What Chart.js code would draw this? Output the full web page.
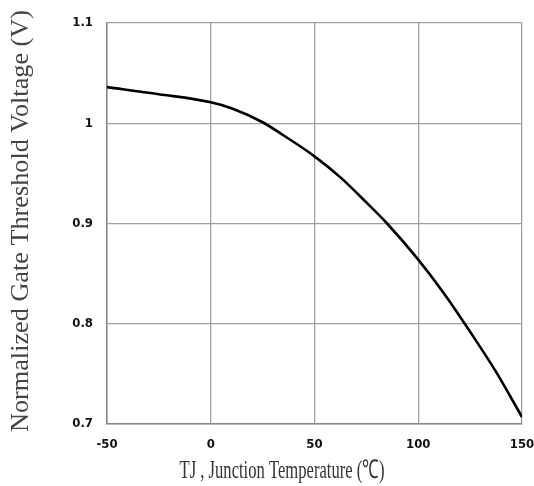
<!DOCTYPE html>
<html><head><meta charset="utf-8">
<script src="https://cdn.jsdelivr.net/npm/chart.js@4/dist/chart.umd.min.js"></script>
<style>html,body{margin:0;padding:0;background:#fff}</style>
</head><body>
<canvas id="c" width="534" height="486"></canvas>
<script>
const temps = [-50, -25, 0, 10, 25, 35, 50, 62.5, 75, 85, 100, 112.5, 125, 137.5, 150];
const vth   = [1.036, 1.029, 1.021, 1.015, 1.001, 0.988, 0.967, 0.946, 0.921, 0.900, 0.864, 0.830, 0.792, 0.752, 0.707];
const xTicks = [-50, 0, 50, 100, 150];
const yTicks = [0.7, 0.8, 0.9, 1.0, 1.1];
const xTitle = 'TJ , Junction Temperature (\u2103)';
const yTitle = 'Normalized Gate Threshold Voltage (V)';

// axis titles drawn as condensed text to mimic the reference
const titlePlugin = {
  id: 'titles',
  afterDraw(chart) {
    const ctx = chart.ctx;
    ctx.save();
    ctx.fillStyle = '#333';
    ctx.font = '26px "Liberation Serif", "Times New Roman", serif';
    ctx.textAlign = 'center';
    ctx.textBaseline = 'alphabetic';
    let w = ctx.measureText(xTitle).width;
    ctx.translate(282, 478);
    ctx.scale(205 / w, 1);
    ctx.fillText(xTitle, 0, 0);
    ctx.restore();

    ctx.save();
    ctx.fillStyle = '#444';
    ctx.font = '25px "Liberation Serif", "Times New Roman", serif';
    ctx.textAlign = 'center';
    ctx.textBaseline = 'alphabetic';
    w = ctx.measureText(yTitle).width;
    ctx.translate(28, 221);
    ctx.rotate(-Math.PI / 2);
    ctx.scale(422 / w, 1);
    ctx.fillText(yTitle, 0, 0);
    ctx.restore();
  }
};

const tickFont = {family: '"Liberation Sans Narrow", "DejaVu Sans Condensed", Arial', size: 13, weight: 'bold'};
new Chart(document.getElementById('c'), {
  type: 'line',
  data: {
    datasets: [{
      data: temps.map((t, i) => ({x: t, y: vth[i]})),
      borderColor: '#000', borderWidth: 2.6, pointRadius: 0,
      cubicInterpolationMode: 'monotone', fill: false
    }]
  },
  plugins: [titlePlugin],
  options: {
    responsive: false, animation: false,
    layout: {padding: {top: 23, right: 12, left: 0, bottom: 0}},
    plugins: {legend: {display: false}, tooltip: {enabled: false}},
    scales: {
      x: {
        type: 'linear', min: -50, max: 150,
        afterBuildTicks: s => { s.ticks = xTicks.map(v => ({value: v})); },
        afterFit: s => { s.height = 62; s.paddingLeft = 0; s.paddingRight = 0; },
        grid: {color: '#a0a0a0', lineWidth: 1.3, drawTicks: false},
        border: {color: '#888', width: 1.5},
        ticks: {color: '#111', font: tickFont, padding: 13, maxRotation: 0},
        title: {display: false}
      },
      y: {
        type: 'linear', min: 0.7, max: 1.1,
        afterBuildTicks: s => { s.ticks = yTicks.map(v => ({value: v})); },
        afterFit: s => { s.width = 107; s.paddingTop = 0; s.paddingBottom = 0; },
        grid: {color: '#a0a0a0', lineWidth: 1.3, drawTicks: false},
        border: {color: '#888', width: 1.5},
        ticks: {color: '#111', font: tickFont, padding: 14,
          callback: v => String(Math.round(v * 10) / 10)},
        title: {display: false}
      }
    }
  }
});
</script>
</body></html>
